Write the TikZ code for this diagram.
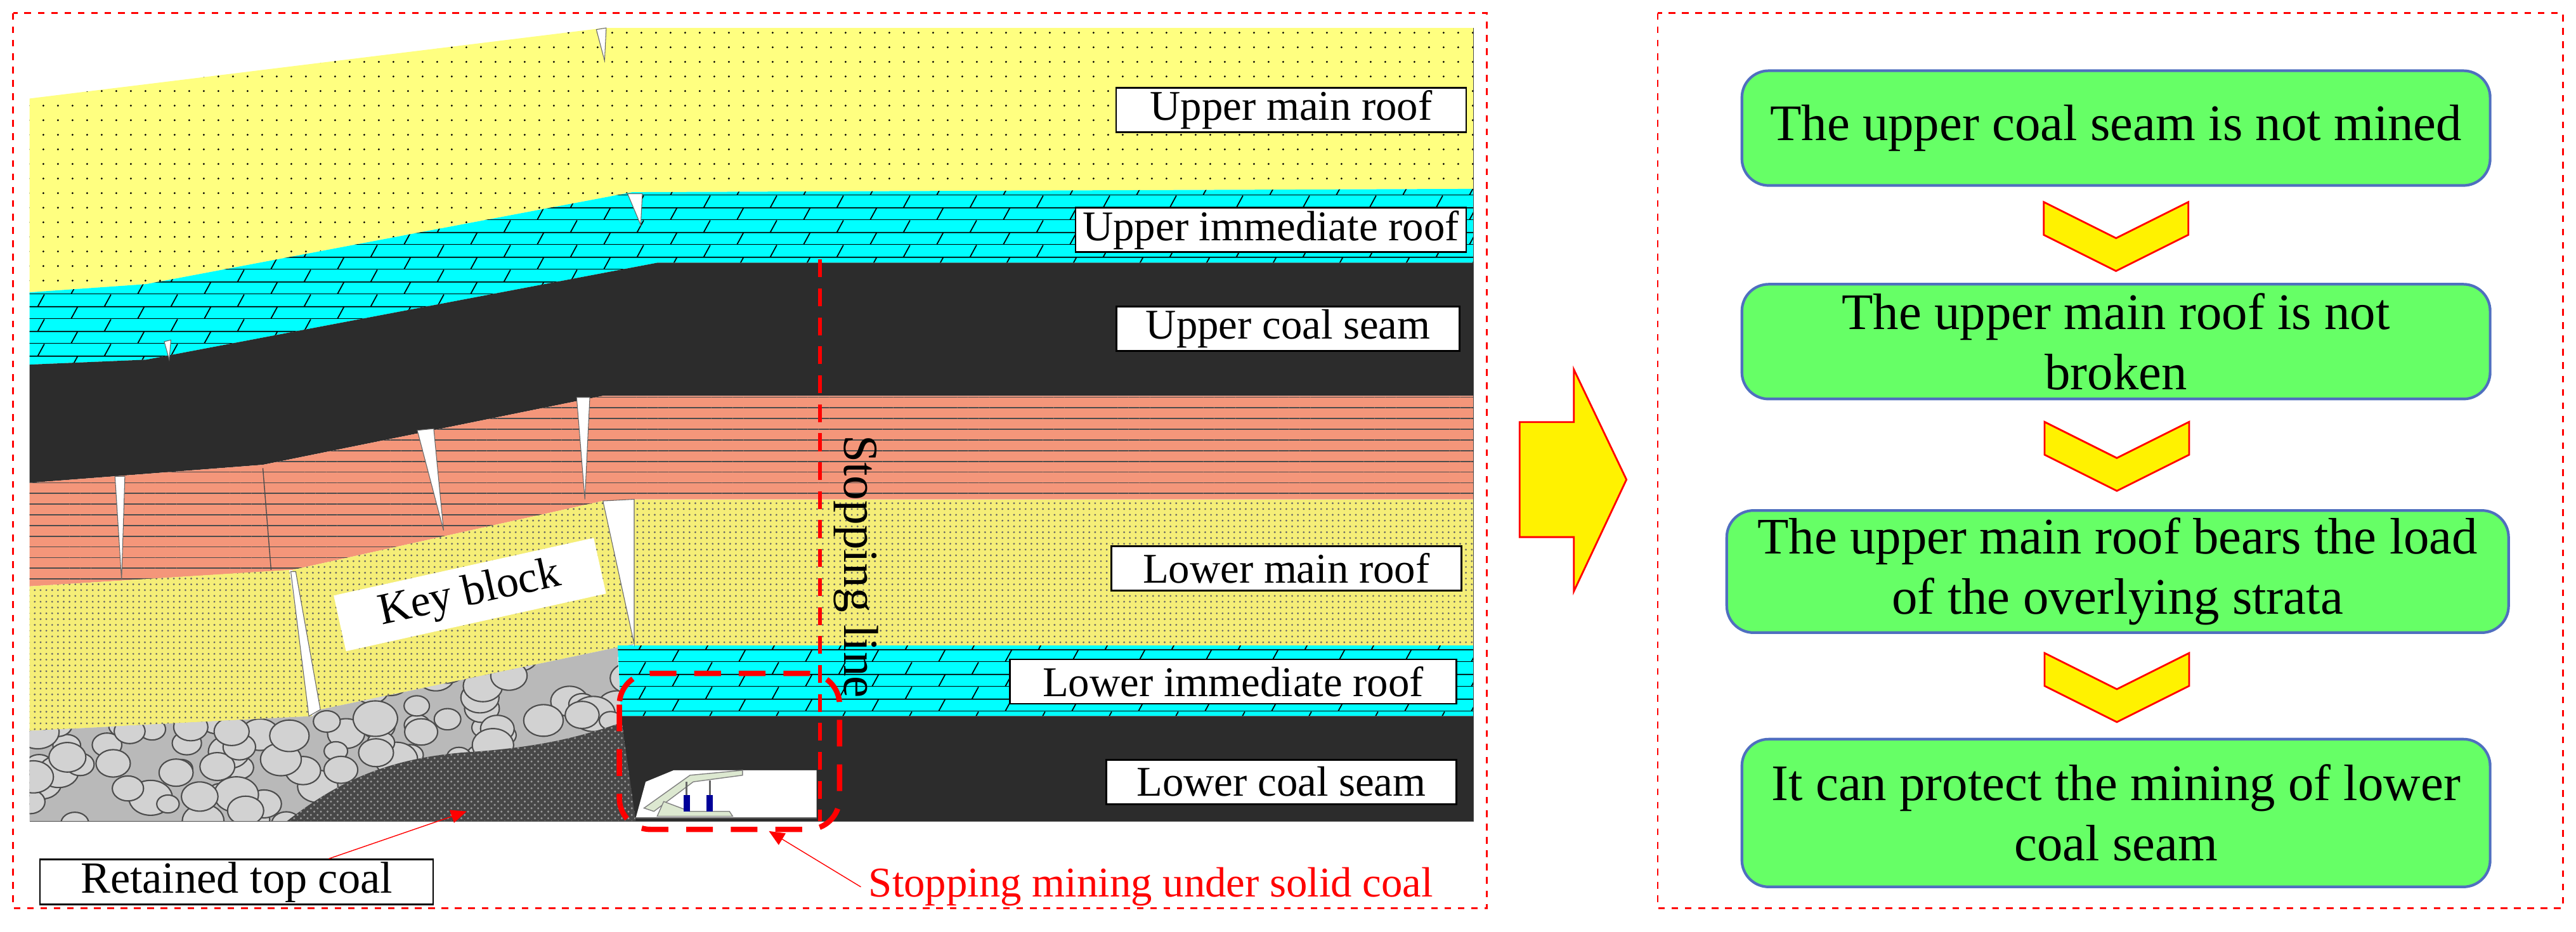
\documentclass[tikz,border=0pt]{standalone}
\usepackage{fontspec}
\setmainfont{Liberation Serif}
\usetikzlibrary{positioning,calc,patterns,patterns.meta,arrows.meta}
\definecolor{sandy}{HTML}{FFFF80}
\definecolor{lsandy}{HTML}{F5EE78}
\definecolor{iceblue}{HTML}{00FFFF}
\definecolor{salmon}{HTML}{F4967A}
\definecolor{coal}{HTML}{2C2C2C}
\definecolor{boxgreen}{HTML}{66FF66}
\definecolor{boxedge}{HTML}{4F6FBF}
\definecolor{supgreen}{HTML}{DCE8D0}
\pgfdeclarepatternformonly{slbricks}{\pgfpointorigin}{\pgfpoint{30pt}{11pt}}{\pgfpoint{30pt}{11pt}}{
	\pgfsetlinewidth{0.5pt}
	\pgfpathmoveto{\pgfpoint{0pt}{0pt}}\pgfpathlineto{\pgfpoint{30pt}{0pt}}
	\pgfpathmoveto{\pgfpoint{0pt}{5.5pt}}\pgfpathlineto{\pgfpoint{30pt}{5.5pt}}
	\pgfpathmoveto{\pgfpoint{2pt}{0pt}}\pgfpathlineto{\pgfpoint{5pt}{5.5pt}}
	\pgfpathmoveto{\pgfpoint{17pt}{5.5pt}}\pgfpathlineto{\pgfpoint{20pt}{11pt}}
	\pgfusepath{stroke}}
\begin{document}
\begin{tikzpicture}[x=0.025906cm,y=-0.025906cm,
		upsand/.style={fill=sandy,postaction={pattern={Dots[distance=6.5pt,radius=0.45pt]}}},
		losand/.style={fill=lsandy,postaction={pattern={Dots[distance=2.6pt,radius=0.45pt]},pattern color=black!60}},
		brick/.style={fill=iceblue,postaction={pattern=slbricks}},
		shale/.style={fill=salmon,postaction={pattern={Lines[distance=4.8pt,line width=0.5pt]},pattern color=black!70}},
		seam/.style={fill=coal},
		crack/.style={fill=white,draw=black!60,line width=0.3pt},
		lab/.style={draw=black,fill=white,line width=0.8pt,minimum height=0.7cm,inner sep=1pt,font=\fontsize{19}{22}\selectfont},
		reddash/.style={draw=red,dashed,line width=0.8pt},
		stepbox/.style={draw=boxedge,fill=boxgreen,line width=1.2pt,rounded corners=12pt,align=center,minimum width=11.8cm,font=\fontsize{23}{27}\selectfont},
		chev/.style={fill=yellow,draw=red,line width=0.8pt,line join=miter}]
	\useasboundingbox (0,0) rectangle (1568,567.4);
	% frames
	\draw [reddash] (8,8) rectangle (905,553);
	\draw [reddash] (1009,8) rectangle (1560,553);
	% strata, top to bottom
	\path [upsand] (18,60) -- (368,17) -- (897,17) -- (897,115) -- (385,117) -- (89,173) -- (18,178) -- cycle;
	\path [brick] (18,178) -- (89,173) -- (385,117) -- (897,115) -- (897,160) -- (400,160) -- (89,219) -- (18,222) -- cycle;
	\path [seam] (18,222) -- (89,219) -- (400,160) -- (897,160) -- (897,241) -- (367,241) -- (160,283) -- (18,294) -- cycle;
	\path [shale] (18,294) -- (160,283) -- (367,241) -- (897,241) -- (897,304) -- (386,304) -- (367,305) -- (178,347) -- (18,357) -- cycle;
	\path [losand] (386,304) -- (897,304) -- (897,393) -- (386,393) -- cycle;
	\path [losand] (178,347) -- (367,305) -- (386,392) -- (195,432) -- cycle;
	\path [losand] (18,357) -- (176,347) -- (190,436) -- (18,445) -- cycle;
	% gob rubble
	\begin{scope}
		\clip (18,445) -- (190,436) -- (195,432) -- (386,392) -- (376,400) -- (378,436) -- (392,500) -- (18,500) -- cycle;
		\fill [gray!55] (0,380) rectangle (400,510);
		\pgfmathsetseed{11}
		\foreach \i in {1,...,170} {
			\pgfmathsetmacro{\cx}{18+375*rnd}
			\pgfmathsetmacro{\cy}{385+118*rnd}
			\pgfmathsetmacro{\rx}{5+5*rnd}
			\draw [fill=gray!35,draw=black!70,line width=0.6pt] (\cx,\cy) ellipse [x radius=\rx pt,y radius=0.8*\rx pt];
		}
		\fill [black!72,postaction={pattern=crosshatch dots,pattern color=gray!80}] (172,502) .. controls (200,480) and (230,462) .. (284,458) .. controls (330,455) and (355,448) .. (378,440) -- (392,502) -- cycle;
	\end{scope}
	\path [brick] (376,393) -- (897,393) -- (897,436) -- (378,436) -- cycle;
	\path [seam] (378,436) -- (897,436) -- (897,500) -- (387,500) -- cycle;
	% working face and support
	\fill [white] (387,498) -- (393,476) -- (410,469) -- (497,469) -- (497,498) -- cycle;
	\draw [black!60] (387,498) -- (497,498);
	\draw [fill=supgreen,draw=black!50,line width=0.4pt] (392,492) -- (420,472) -- (452,469) -- (452,472) -- (422,476) -- (398,494) -- cycle;
	\draw [fill=supgreen,draw=black!50,line width=0.4pt] (400,497) -- (404,488) -- (420,494) -- (444,494) -- (446,497) -- cycle;
	\fill [blue!60!black] (416,484) rectangle (420,494);
	\fill [blue!60!black] (430,484) rectangle (434,494);
	\draw [black!60,line width=0.8pt] (418,476) -- (418,484) (432,475) -- (432,484);
	% cracks
	\path [crack] (363,18) -- (369,17) -- (368,37) -- cycle;
	\path [crack] (382,118) -- (391,118) -- (390,137) -- cycle;
	\path [crack] (100,208) -- (104,207) -- (103,219) -- cycle;
	\path [crack] (70,290) -- (76,290) -- (74,353) -- cycle;
	\draw [black!70] (160,285) -- (165,347);
	\path [crack] (254,262) -- (264,261) -- (270,323) -- cycle;
	\path [crack] (351,242) -- (359,242) -- (356,304) -- cycle;
	\path [crack] (367,305) -- (386,304) -- (386,392) -- cycle;
	\path [crack] (177,348) -- (180,348) -- (195,432) -- (188,436) -- cycle;
	\draw [black!70,line width=0.4pt] (897,17) -- (897,500) -- (18,500);
	% labels
	\node [lab,minimum width=5.52cm,anchor=east] (umr) at (893,67) {Upper main roof};
	\node [lab,minimum width=6.16cm,anchor=east] (uir) at (893,140) {Upper immediate roof};
	\node [lab,minimum width=5.41cm,anchor=east] (ucs) at (889,200) {Upper coal seam};
	\node [lab,minimum width=5.52cm,anchor=east] (lmr) at (890,346) {Lower main roof};
	\node [lab,minimum width=7.04cm,anchor=east] (lir) at (887,415) {Lower immediate roof};
	\node [lab,minimum width=5.52cm,anchor=east] (lcs) at (887,476) {Lower coal seam};
	\node [fill=white,rotate=12.5,minimum width=4.2cm,minimum height=0.9cm,font=\fontsize{20}{24}\selectfont] (keyblk) at (286,362) {Key block};
	\node [lab,minimum width=6.2cm,font=\fontsize{20}{23}\selectfont] (retained) at (144,537) {Retained top coal};
	% stopping line and mining zone
	\coordinate (sltop) at (499,158);
	\coordinate (slbot) at (499,500);
	\draw [red,line width=1.6pt,dash pattern=on 8pt off 5pt] (sltop) -- (slbot);
	\node [rotate=-90,font=\fontsize{22}{24}\selectfont] (stopline) at (521,345) {Stopping line};
	\draw [red,line width=2.4pt,dash pattern=on 12pt off 8pt,rounded corners=14pt] (377,410) rectangle (511,505);
	\coordinate (zonebot) at (468,506);
	\node [text=red,anchor=west,font=\fontsize{19}{22}\selectfont] (stopmine) at (524,540) {Stopping mining under solid coal};
	\draw [red,-{Triangle[length=7pt,width=6pt]}] (stopmine.west) -- (zonebot);
	\coordinate (topcoal) at (284,494);
	\draw [red,-{Triangle[length=7pt,width=6pt]}] (retained.north east) ++(-64,0) -- (topcoal);
	% big arrow
	\draw [fill=yellow,draw=red,line width=0.8pt] (925,257) -- (958,257) -- (958,225) -- (990,292) -- (958,360) -- (958,327) -- (925,327) -- cycle;
	% flow
	\node [stepbox,minimum height=1.81cm] (s1) at (1288,78) {The upper coal seam is not mined};
	\node [stepbox,minimum height=1.81cm] (s2) at (1288,208) {The upper main roof is not\\broken};
	\node [stepbox,minimum height=1.89cm,minimum width=12.33cm] (s3) at (1289,348) {The upper main roof bears the load\\of the overlying strata};
	\node [stepbox,minimum height=2.33cm] (s4) at (1288,495) {It can protect the mining of lower\\coal seam};
	\foreach \a/\b in {s1/s2,s2/s3,s3/s4} {
		\coordinate (m) at ($(\a.south)!0.5!(\b.north)$);
		\draw [chev] ($(m)+(-44,-20)$) -- ($(m)+(0,2)$) -- ($(m)+(44,-20)$) -- ($(m)+(44,0)$) -- ($(m)+(0,22)$) -- ($(m)+(-44,0)$) -- cycle;
	}
\end{tikzpicture}
\end{document}
